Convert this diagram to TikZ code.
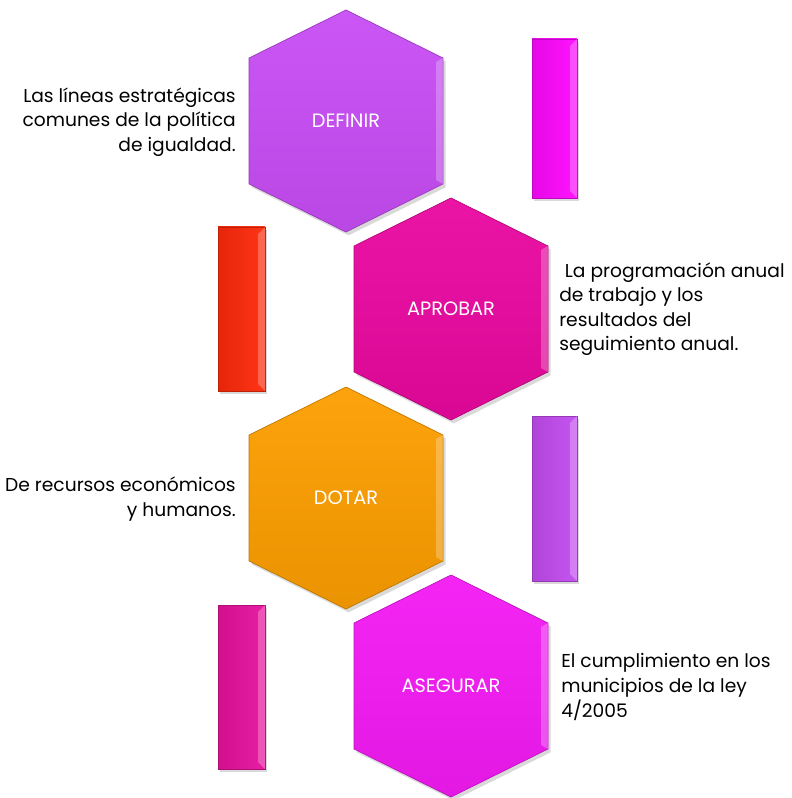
\documentclass[tikz,border=0pt]{standalone}
\usepackage{fontspec}
\setmainfont{Poppins}
\usetikzlibrary{shadows}
\definecolor{defcol}{HTML}{C84DF5}
\definecolor{aprcol}{HTML}{EA08A0}
\definecolor{dotcol}{HTML}{FC9E00}
\definecolor{asecol}{HTML}{F41AF4}
\definecolor{barmag}{HTML}{FF08FF}
\definecolor{barred}{HTML}{FF2A0A}
\definecolor{barpur}{HTML}{C44CF0}
\definecolor{barpink}{HTML}{E8129E}
% hexagon around a centre, in pixels
\newcommand\hexat[2]{(#1,#2-111) -- (#1+97,#2-63) -- (#1+97,#2+63) -- (#1,#2+111) -- (#1-97,#2+63) -- (#1-97,#2-63) -- cycle}
\begin{document}
\begin{tikzpicture}
  [x=0.75pt, y=-0.75pt,
   hexa/.style={draw=#1!75!black, line width=0.5pt, top color=#1!95!white, bottom color=#1!93!black,
     drop shadow={opacity=0.3, shadow xshift=2pt, shadow yshift=-2.5pt}},
   barbox/.style={draw=#1!75!black, line width=0.5pt, left color=#1!90!black, right color=#1!95!white,
     drop shadow={opacity=0.3, shadow xshift=1.5pt, shadow yshift=-2.5pt}},
   shine/.style={fill=white, fill opacity=0.25, draw=none},
   hexlabel/.style={text=white, font=\fontsize{14.5}{16}\selectfont},
   note/.style={font=\fontsize{14}{18.4}\selectfont, inner sep=0pt}]
  \useasboundingbox (0,0) rectangle (791,798);
  % Bars beside the hexagons
  \foreach \xa/\ya/\xb/\yb/\col in {532/39/577/198/barmag, 218/227/265/391/barred,
      532/416/577/581/barpur, 218/605/265/769/barpink} {
    \draw[barbox=\col] (\xa,\ya) rectangle (\xb,\yb);
    \fill[shine] (\xb-7,\ya+7) -- (\xb,\ya) -- (\xb,\yb) -- (\xb-7,\yb-7) -- cycle;
  }
  % Hexagons with their labels
  \foreach \cx/\cy/\col/\name/\txt in {346/121/defcol/definir/DEFINIR, 451/309/aprcol/aprobar/APROBAR,
      346/498/dotcol/dotar/DOTAR, 451/686/asecol/asegurar/ASEGURAR} {
    \draw[hexa=\col] \hexat{\cx}{\cy};
    \fill[shine] (\cx+97,\cy-63) -- (\cx+97,\cy+63) -- (\cx+90,\cy+59) -- (\cx+90,\cy-59) -- cycle;
    \node[hexlabel] (\name) at (\cx,\cy) {\txt};
  }
  % Texts
  \node[note, align=right, anchor=east] (txtdef) at (236,122)
    {Las líneas estratégicas\\comunes de la política\\de igualdad.};
  \node[note, align=left, anchor=west] (txtapr) at (559,309)
    {\hspace{0.3em}La programación anual\\de trabajo y los\\resultados del\\seguimiento anual.};
  \node[note, align=right, anchor=east] (txtdot) at (236,499)
    {De recursos económicos\\y humanos.};
  \node[note, align=left, anchor=west] (txtase) at (561,687)
    {El cumplimiento en los\\municipios de la ley\\4/2005};
\end{tikzpicture}
\end{document}
